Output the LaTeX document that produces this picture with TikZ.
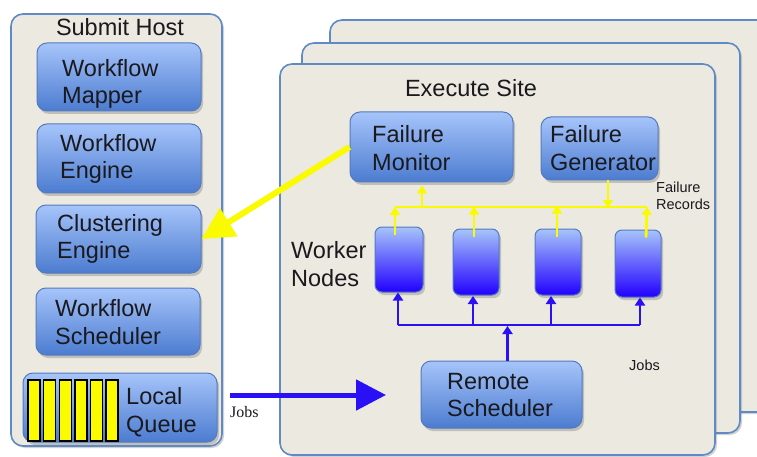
\documentclass[tikz,border=0pt]{standalone}
\usepackage{fontspec}
\setmainfont{Liberation Sans}
\newfontfamily\serifjobs{Liberation Serif}
\usetikzlibrary{arrows.meta,shadows,calc}
\definecolor{bgc}{RGB}{236,233,224}
\definecolor{bordc}{RGB}{96,138,198}
\definecolor{boxtop}{RGB}{166,196,250}
\definecolor{boxbot}{RGB}{76,124,208}
\definecolor{boxbord}{RGB}{84,122,192}
\definecolor{wbot}{RGB}{34,0,255}
\definecolor{bluearr}{RGB}{42,16,245}
\definecolor{yel}{RGB}{250,250,0}
\definecolor{txt}{RGB}{25,25,30}
\tikzset{
  container/.style={draw=bordc, line width=1.6pt, fill=bgc, rounded corners=12pt,
    drop shadow={shadow xshift=2pt, shadow yshift=-2pt, opacity=0.35}},
  comp/.style={draw=boxbord, line width=1pt, top color=boxtop, bottom color=boxbot,
    rounded corners=10pt, inner sep=0pt,
    drop shadow={shadow xshift=2pt, shadow yshift=-3pt, opacity=0.4}},
  worker/.style={draw=boxbord, line width=1pt, top color=boxtop, bottom color=wbot,
    rounded corners=7pt, inner sep=0pt,
    drop shadow={shadow xshift=2pt, shadow yshift=-3pt, opacity=0.4}},
  lbl/.style={font=\fontsize{23.5}{27.5}\selectfont, text=txt, align=left, inner sep=0pt},
  small/.style={font=\fontsize{14.5}{17}\selectfont, text=txt, align=left, inner sep=0pt},
  bar/.style={draw=black, line width=1.4pt, fill=yel},
  yarr/.style={draw=yel, line width=2.8pt, -{Triangle[length=8pt,width=10pt]}},
  yline/.style={draw=yel, line width=2.8pt},
  barr/.style={draw=bluearr, line width=2.8pt, -{Triangle[length=8pt,width=10pt]}},
  bline/.style={draw=bluearr, line width=2.8pt},
}
\begin{document}
\begin{tikzpicture}[x=1pt,y=-1pt]
\useasboundingbox (0,0) rectangle (757,457);
\clip (0,0) rectangle (757,457);
\fill[white] (0,0) rectangle (757,457);
% submit host
\path[container] (11,14) rectangle (222,446);
\node[lbl, anchor=center] (sh) at (120,27) {Submit Host};
\node[comp, minimum width=164pt, minimum height=68pt] (wm) at (119,77) {};
\node[lbl, anchor=west] (wmt) at (62,84) {Workflow\\Mapper};
\node[comp, minimum width=164pt, minimum height=69pt] (we) at (119,158.5) {};
\node[lbl, anchor=west] (wet) at (60,159) {Workflow\\Engine};
\node[comp, minimum width=165pt, minimum height=68pt] (ce) at (118.5,239) {};
\node[lbl, anchor=west] (cet) at (57,239) {Clustering\\Engine};
\node[comp, minimum width=164pt, minimum height=67pt] (ws) at (118,321.5) {};
\node[lbl, anchor=west] (wst) at (55,322) {Workflow\\Scheduler};
\node[comp, minimum width=194pt, minimum height=69pt] (lq) at (120,407.5) {};
\foreach \i in {0,...,5} {
  \path[bar] ({28+15.6*\i},380) rectangle ({40+15.6*\i},441);
}
\node[lbl, anchor=west] (lqt) at (126,412) {Local\\Queue};
% execute sites stack
\path[container] (330,20) rectangle (775,412);
\path[container] (302,43) rectangle (740,433);
\path[container] (280,64) rectangle (715,455);
\node[lbl] (es) at (471,88) {Execute Site};
\node[comp, minimum width=163pt, minimum height=70pt] (fm) at (431.5,147) {};
\node[lbl, anchor=west] (fmt) at (372,148) {Failure\\Monitor};
\node[comp, minimum width=117pt, minimum height=63pt] (fg) at (599.5,148.5) {};
\node[lbl, anchor=west] (fgt) at (550,148) {Failure\\Generator};
\node[comp, minimum width=161pt, minimum height=67pt] (rs) at (501.5,394.5) {};
\node[lbl, anchor=west] (rst) at (447,395) {Remote\\Scheduler};
\node[worker, minimum width=48pt, minimum height=65pt] (w1) at (399,259.5) {};
\node[worker, minimum width=46pt, minimum height=66pt] (w2) at (476,262) {};
\node[worker, minimum width=46pt, minimum height=66pt] (w3) at (558,262) {};
\node[worker, minimum width=46pt, minimum height=67pt] (w4) at (638,263.5) {};
\node[lbl, anchor=west] (wn) at (291,264) {Worker\\Nodes};
\node[small, anchor=west] (fr) at (656,196) {Failure\\Records};
\node[small, anchor=west] (jb) at (629,365) {Jobs};
\node[font=\serifjobs\fontsize{16}{18}\selectfont, text=txt, inner sep=0pt, anchor=west] (jb2) at (230,412) {Jobs};
% yellow bus
\coordinate (yb1) at (395,207);
\coordinate (yb2) at (647,207);
\draw[yline] (yb1) -- (yb2);
\draw[yarr] (w1.north -| yb1) ++(0,8) -- (yb1);
\draw[yarr] ($(w2.north)+(-2,8)$) -- ($(w2.north)+(-2,-22)$);
\draw[yarr] ($(w3.north)+(-1,8)$) -- ($(w3.north)+(-1,-23)$);
\draw[yarr] ($(w4.north)+(8,8)$) -- (yb2);
\draw[yarr] (fm.south -| 422,0) ++(0,25) -- ++(0,-22);
\coordinate (fgb) at (608,180);
\draw[yarr] (fgb) -- (608,208);
% blue bus
\coordinate (bb1) at (398,325);
\coordinate (bb2) at (640,325);
\draw[bline] (bb1) -- (bb2);
\draw[barr] (bb1) -- (bb1 |- w1.south);
\draw[barr] (473,325) -- (473,296);
\draw[barr] (551,325) -- (551,296);
\draw[barr] (bb2) -- (bb2 |- w4.south);
\draw[barr] ($(rs.north)+(6,0)$) -- (507.5,326);
% big arrows
\coordinate (qa) at (230,395);
\coordinate (ra) at (386,395);
\draw[draw=bluearr, line width=5pt, -{Triangle[length=30pt,width=30pt]}] (qa) -- (ra);
\draw[draw=yel, line width=6pt, -{Triangle[length=32pt,width=32pt]}] (fm.west) -- (ce.east);
\end{tikzpicture}
\end{document}
